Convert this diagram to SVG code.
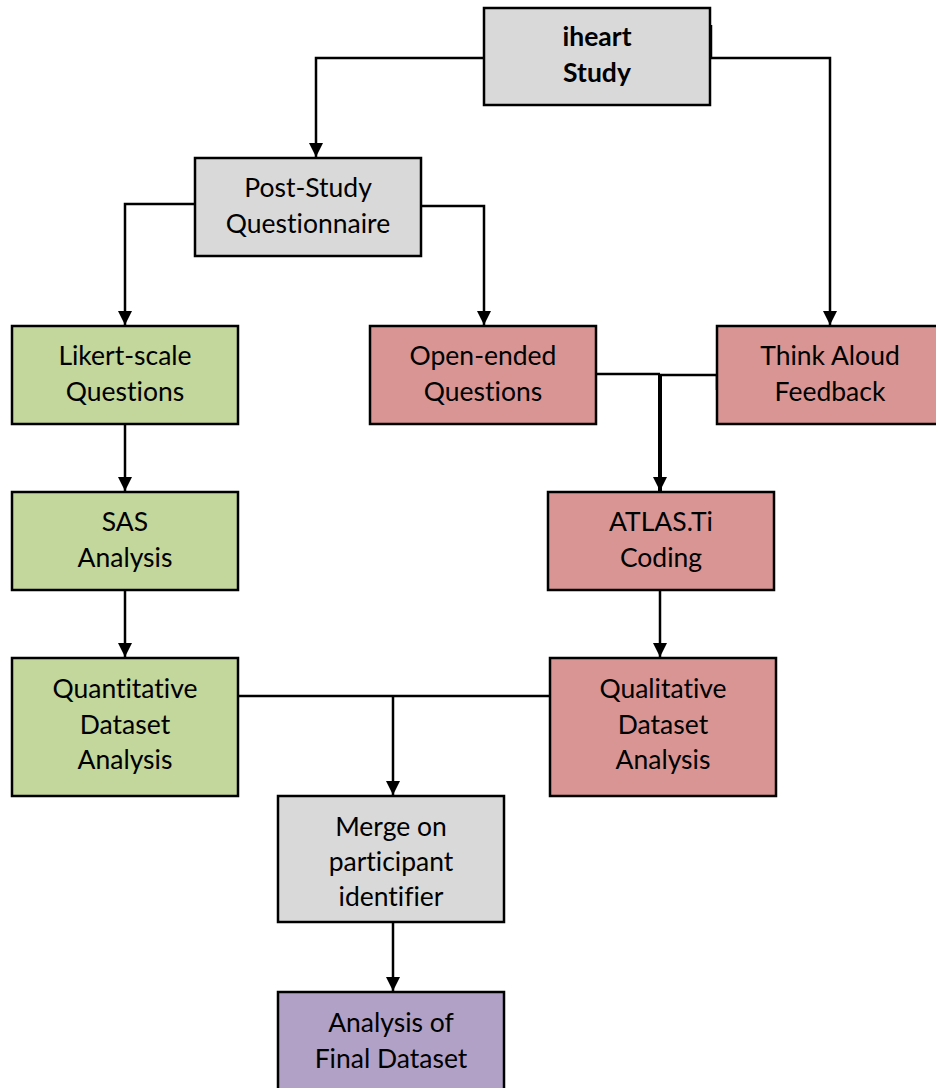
<svg xmlns="http://www.w3.org/2000/svg" width="936" height="1088" viewBox="0 0 936 1088">
  <style>
    .box { stroke: #000; stroke-width: 2.5; }
    .grey { fill: #d9d9d9; }
    .green { fill: #c3d69b; }
    .red { fill: #d99594; }
    .purple { fill: #b2a1c7; }
    .lbl { font-family: Lato, "Noto Sans", sans-serif; font-size: 26.5px; fill: #000; text-anchor: middle; font-variant-ligatures: none; }
    .bold { font-weight: bold; }
    .wire { fill: none; stroke: #000; stroke-width: 2.5; }
    .thick { stroke-width: 4; }
  </style>
  <defs>
    <marker id="arrow" viewBox="0 0 10 10" refX="10" refY="5" markerUnits="userSpaceOnUse" markerWidth="14" markerHeight="14" orient="auto">
      <path d="M0,0 L10,5 L0,10 Z" fill="#000"/>
    </marker>
  </defs>
  <rect width="936" height="1088" fill="#fff"/>

  <g id="connectors">
    <path class="wire" d="M484,58 H316 V157" marker-end="url(#arrow)"/>
    <path class="wire" d="M710,58 H830 V325" marker-end="url(#arrow)"/>
    <path class="wire" d="M711,25 V58"/>
    <path class="wire" d="M195,204 H125 V325" marker-end="url(#arrow)"/>
    <path class="wire" d="M421,206 H484 V325" marker-end="url(#arrow)"/>
    <path class="wire" d="M596,374 H660"/>
    <path class="wire" d="M717,375 H660"/>
    <path class="wire" d="M717,375 V390"/>
    <path class="wire thick" d="M660,375 V491" marker-end="url(#arrow)"/>
    <path class="wire" d="M125,424 V491" marker-end="url(#arrow)"/>
    <path class="wire" d="M125,590 V657" marker-end="url(#arrow)"/>
    <path class="wire" d="M660,590 V657" marker-end="url(#arrow)"/>
    <path class="wire" d="M238,696 H550"/>
    <path class="wire" d="M393,696 V795" marker-end="url(#arrow)"/>
    <path class="wire" d="M393,922 V991" marker-end="url(#arrow)"/>
  </g>

  <g id="iheart-study">
    <rect class="box grey" x="484" y="8" width="226" height="97"/>
    <text class="lbl bold" x="597" y="46">iheart</text>
    <text class="lbl bold" x="597" y="82">Study</text>
  </g>
  <g id="post-study-questionnaire">
    <rect class="box grey" x="195" y="158" width="226" height="98"/>
    <text class="lbl" x="308" y="197">Post-Study</text>
    <text class="lbl" x="308" y="233">Questionnaire</text>
  </g>
  <g id="likert-scale-questions">
    <rect class="box green" x="12" y="326" width="226" height="98"/>
    <text class="lbl" x="125" y="365">Likert-scale</text>
    <text class="lbl" x="125" y="401">Questions</text>
  </g>
  <g id="open-ended-questions">
    <rect class="box red" x="370" y="326" width="226" height="98"/>
    <text class="lbl" x="483" y="365">Open-ended</text>
    <text class="lbl" x="483" y="401">Questions</text>
  </g>
  <g id="think-aloud-feedback">
    <rect class="box red" x="717" y="326" width="222" height="98"/>
    <text class="lbl" x="830" y="365">Think Aloud</text>
    <text class="lbl" x="830" y="401">Feedback</text>
  </g>
  <g id="sas-analysis">
    <rect class="box green" x="12" y="492" width="226" height="98"/>
    <text class="lbl" x="125" y="531">SAS</text>
    <text class="lbl" x="125" y="567">Analysis</text>
  </g>
  <g id="atlas-ti-coding">
    <rect class="box red" x="548" y="492" width="226" height="98"/>
    <text class="lbl" x="661" y="531">ATLAS.Ti</text>
    <text class="lbl" x="661" y="567">Coding</text>
  </g>
  <g id="quantitative-dataset-analysis">
    <rect class="box green" x="12" y="658" width="226" height="138"/>
    <text class="lbl" x="125" y="698">Quantitative</text>
    <text class="lbl" x="125" y="734">Dataset</text>
    <text class="lbl" x="125" y="769">Analysis</text>
  </g>
  <g id="qualitative-dataset-analysis">
    <rect class="box red" x="550" y="658" width="226" height="138"/>
    <text class="lbl" x="663" y="698">Qualitative</text>
    <text class="lbl" x="663" y="734">Dataset</text>
    <text class="lbl" x="663" y="769">Analysis</text>
  </g>
  <g id="merge-on-participant-identifier">
    <rect class="box grey" x="278" y="796" width="226" height="126"/>
    <text class="lbl" x="391" y="836">Merge on</text>
    <text class="lbl" x="391" y="871">participant</text>
    <text class="lbl" x="391" y="906">identifier</text>
  </g>
  <g id="analysis-of-final-dataset">
    <rect class="box purple" x="278" y="992" width="226" height="100"/>
    <text class="lbl" x="391" y="1032">Analysis of</text>
    <text class="lbl" x="391" y="1068">Final Dataset</text>
  </g>
</svg>
